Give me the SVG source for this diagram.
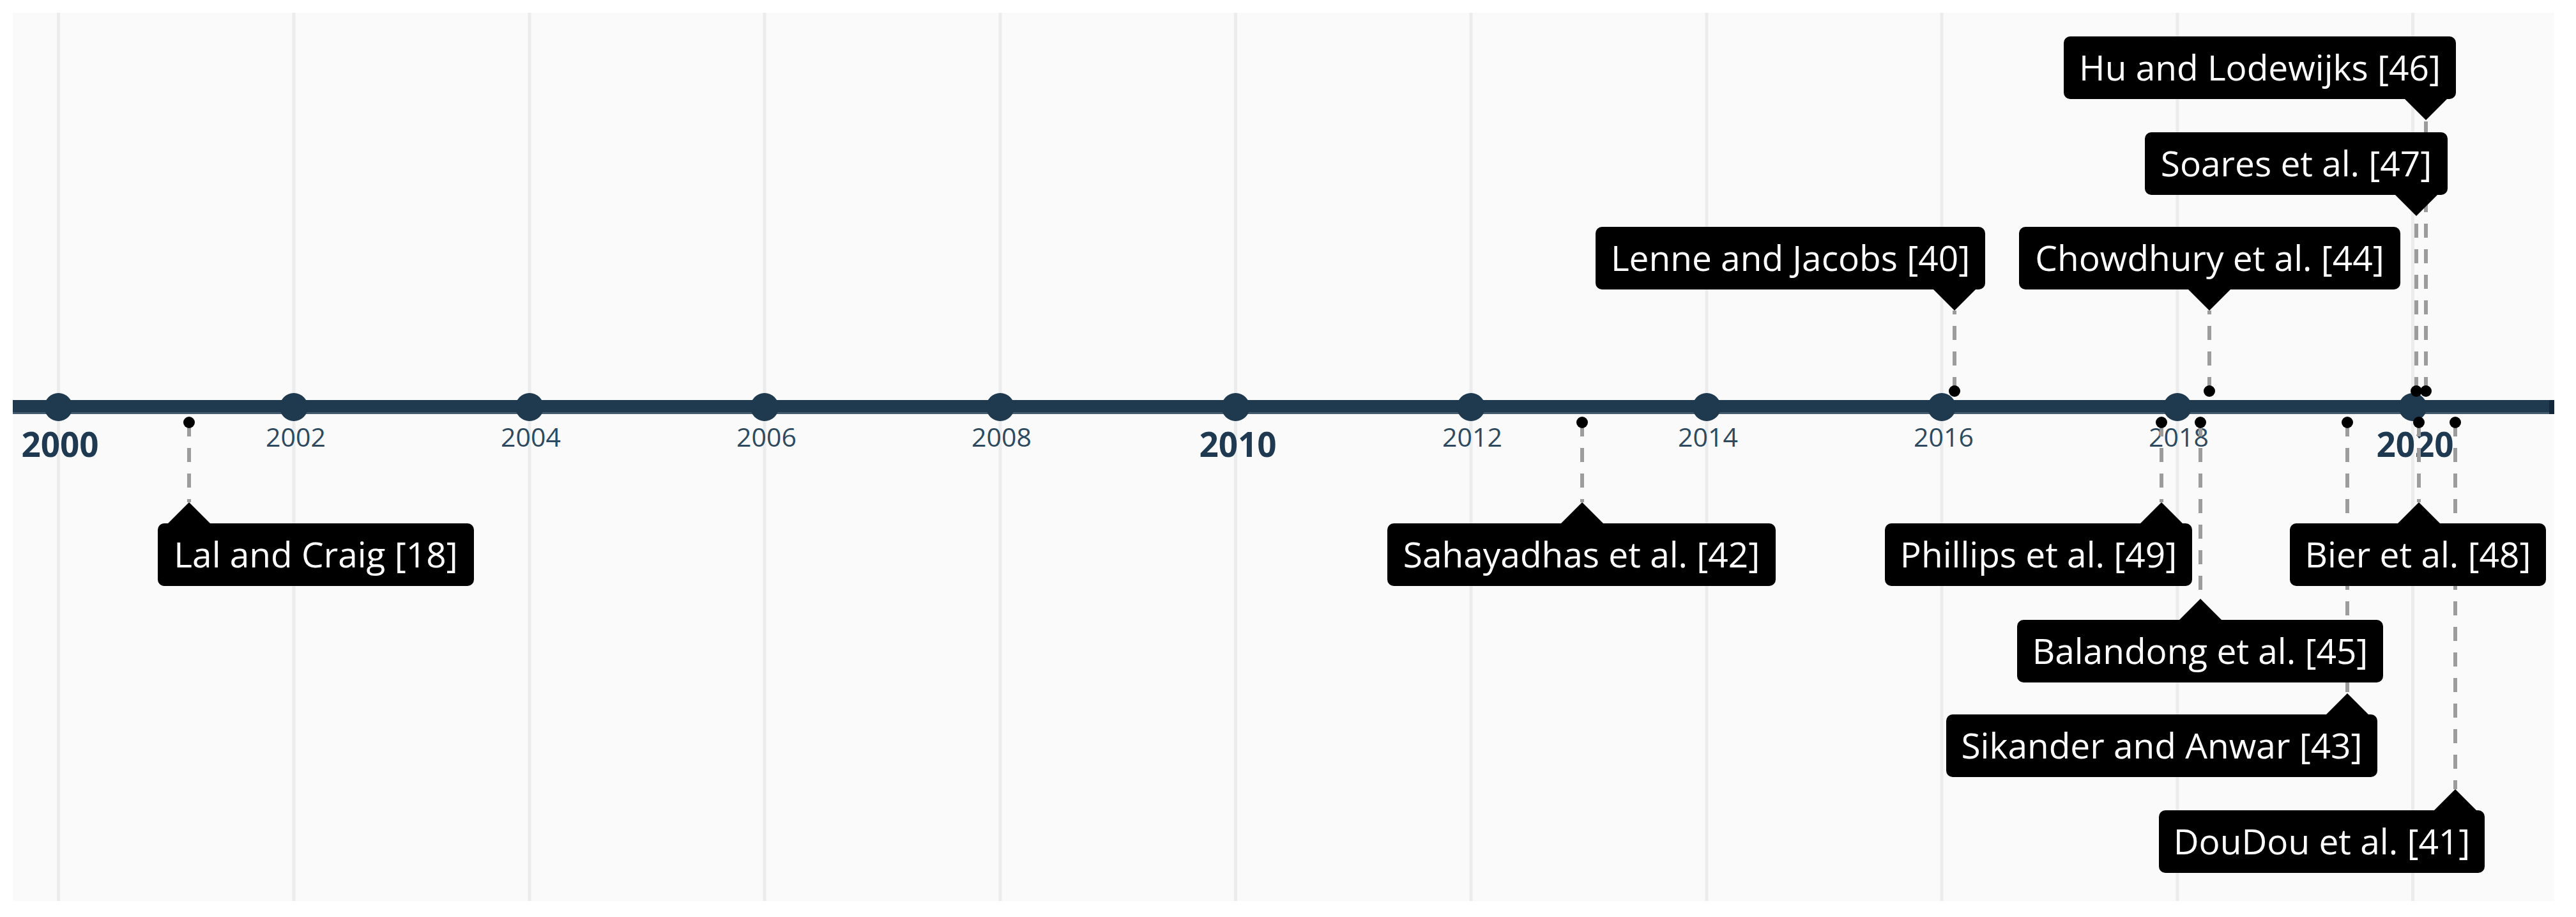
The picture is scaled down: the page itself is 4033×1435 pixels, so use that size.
<svg xmlns="http://www.w3.org/2000/svg" width="4033" height="1435" viewBox="0 0 4033 1435">
<style>
.grid{stroke:#ececec;stroke-width:5}
.yr{font-family:'Open Sans','DejaVu Sans',sans-serif;font-size:41px;fill:#2d4a60;text-anchor:middle}
.yrb{font-family:'Open Sans','DejaVu Sans',sans-serif;font-size:53px;font-weight:bold;fill:#1f3a50;text-anchor:middle}
.ydot{fill:#1f394f}
.conn{stroke:#9c9c9c;stroke-width:6;stroke-dasharray:22 18;fill:none}
.pin{fill:#000}
.box{fill:#000}
.lbl{font-family:'Open Sans','DejaVu Sans',sans-serif;font-size:55px;fill:#fff;text-anchor:middle}
</style>
<rect x="0" y="0" width="4033" height="1435" fill="#fff"/>
<rect x="20" y="20" width="3979" height="1390" fill="#fafafa"/>
<g id="grid">
<line class="grid" x1="91.5" y1="20" x2="91.5" y2="1410"/>
<line class="grid" x1="460" y1="20" x2="460" y2="1410"/>
<line class="grid" x1="829" y1="20" x2="829" y2="1410"/>
<line class="grid" x1="1197" y1="20" x2="1197" y2="1410"/>
<line class="grid" x1="1566" y1="20" x2="1566" y2="1410"/>
<line class="grid" x1="1934.5" y1="20" x2="1934.5" y2="1410"/>
<line class="grid" x1="2303" y1="20" x2="2303" y2="1410"/>
<line class="grid" x1="2672" y1="20" x2="2672" y2="1410"/>
<line class="grid" x1="3040" y1="20" x2="3040" y2="1410"/>
<line class="grid" x1="3409" y1="20" x2="3409" y2="1410"/>
<line class="grid" x1="3777.5" y1="20" x2="3777.5" y2="1410"/>
</g>
<g id="axis">
<rect x="20" y="626" width="3979" height="20" fill="#1f394f"/>
<rect x="20" y="645" width="3979" height="3" fill="#445b6e"/>
<rect x="3991" y="626" width="8" height="22" fill="#14283a"/>
<circle class="ydot" cx="91.5" cy="637" r="22"/>
<circle class="ydot" cx="460" cy="637" r="22"/>
<circle class="ydot" cx="829" cy="637" r="22"/>
<circle class="ydot" cx="1197" cy="637" r="22"/>
<circle class="ydot" cx="1566" cy="637" r="22"/>
<circle class="ydot" cx="1934.5" cy="637" r="22"/>
<circle class="ydot" cx="2303" cy="637" r="22"/>
<circle class="ydot" cx="2672" cy="637" r="22"/>
<circle class="ydot" cx="3040" cy="637" r="22"/>
<circle class="ydot" cx="3409" cy="637" r="22"/>
<circle class="ydot" cx="3777.5" cy="637" r="22"/>
<text class="yrb" x="94" y="715">2000</text>
<text class="yr" x="463" y="699">2002</text>
<text class="yr" x="831" y="699">2004</text>
<text class="yr" x="1200" y="699">2006</text>
<text class="yr" x="1568" y="699">2008</text>
<text class="yrb" x="1938" y="715">2010</text>
<text class="yr" x="2305" y="699">2012</text>
<text class="yr" x="2674" y="699">2014</text>
<text class="yr" x="3043" y="699">2016</text>
<text class="yr" x="3411" y="699">2018</text>
<text class="yrb" x="3781" y="715">2020</text>
</g>
<g id="connectors">
<line class="conn" x1="296" y1="661" x2="296" y2="786"/>
<line class="conn" x1="2477" y1="661" x2="2477" y2="786"/>
<line class="conn" x1="3384" y1="661" x2="3384" y2="786"/>
<line class="conn" x1="3787" y1="661" x2="3787" y2="786"/>
<line class="conn" x1="3445" y1="661" x2="3445" y2="937"/>
<line class="conn" x1="3675" y1="661" x2="3675" y2="1085"/>
<line class="conn" x1="3844" y1="661" x2="3844" y2="1235"/>
<line class="conn" x1="3060" y1="612" x2="3060" y2="486"/>
<line class="conn" x1="3459" y1="612" x2="3459" y2="486"/>
<line class="conn" x1="3783" y1="612" x2="3783" y2="338"/>
<line class="conn" x1="3798" y1="612" x2="3798" y2="188"/>
<circle class="pin" cx="296" cy="661" r="9"/>
<circle class="pin" cx="2477" cy="661" r="9"/>
<circle class="pin" cx="3384" cy="661" r="9"/>
<circle class="pin" cx="3787" cy="661" r="9"/>
<circle class="pin" cx="3445" cy="661" r="9"/>
<circle class="pin" cx="3675" cy="661" r="9"/>
<circle class="pin" cx="3844" cy="661" r="9"/>
<circle class="pin" cx="3060" cy="612" r="9"/>
<circle class="pin" cx="3459" cy="612" r="9"/>
<circle class="pin" cx="3783" cy="612" r="9"/>
<circle class="pin" cx="3798" cy="612" r="9"/>
</g>
<g id="lal">
<polygon class="box" points="296,786 261,821 331,821"/>
<rect class="box" x="247" y="819" width="495" height="98" rx="10"/>
<text class="lbl" x="494.5" y="888">Lal and Craig [18]</text>
</g>
<g id="sahayadhas">
<polygon class="box" points="2477,786 2442,821 2512,821"/>
<rect class="box" x="2172" y="819" width="608" height="98" rx="10"/>
<text class="lbl" x="2476" y="888">Sahayadhas et al. [42]</text>
</g>
<g id="phillips">
<polygon class="box" points="3384,786 3349,821 3419,821"/>
<rect class="box" x="2951" y="819" width="481" height="98" rx="10"/>
<text class="lbl" x="3191.5" y="888">Phillips et al. [49]</text>
</g>
<g id="bier">
<polygon class="box" points="3787,786 3752,821 3822,821"/>
<rect class="box" x="3585" y="819" width="401" height="98" rx="10"/>
<text class="lbl" x="3785.5" y="888">Bier et al. [48]</text>
</g>
<g id="balandong">
<polygon class="box" points="3445,937 3410,972 3480,972"/>
<rect class="box" x="3158" y="970" width="573" height="98" rx="10"/>
<text class="lbl" x="3444.5" y="1039">Balandong et al. [45]</text>
</g>
<g id="sikander">
<polygon class="box" points="3675,1085 3640,1120 3710,1120"/>
<rect class="box" x="3047" y="1118" width="675" height="98" rx="10"/>
<text class="lbl" x="3384.5" y="1187">Sikander and Anwar [43]</text>
</g>
<g id="doudou">
<polygon class="box" points="3844,1235 3809,1270 3879,1270"/>
<rect class="box" x="3380" y="1268" width="510" height="98" rx="10"/>
<text class="lbl" x="3635" y="1337">DouDou et al. [41]</text>
</g>
<g id="lenne">
<polygon class="box" points="3060,486 3025,451 3095,451"/>
<rect class="box" x="2498" y="355" width="610" height="98" rx="10"/>
<text class="lbl" x="2803" y="424">Lenne and Jacobs [40]</text>
</g>
<g id="chowdhury">
<polygon class="box" points="3459,486 3424,451 3494,451"/>
<rect class="box" x="3161" y="355" width="597" height="98" rx="10"/>
<text class="lbl" x="3459.5" y="424">Chowdhury et al. [44]</text>
</g>
<g id="soares">
<polygon class="box" points="3783,338 3748,303 3818,303"/>
<rect class="box" x="3358" y="207" width="474" height="98" rx="10"/>
<text class="lbl" x="3595" y="276">Soares et al. [47]</text>
</g>
<g id="hu">
<polygon class="box" points="3798,188 3763,153 3833,153"/>
<rect class="box" x="3231" y="57" width="614" height="98" rx="10"/>
<text class="lbl" x="3538" y="126">Hu and Lodewijks [46]</text>
</g>
</svg>
